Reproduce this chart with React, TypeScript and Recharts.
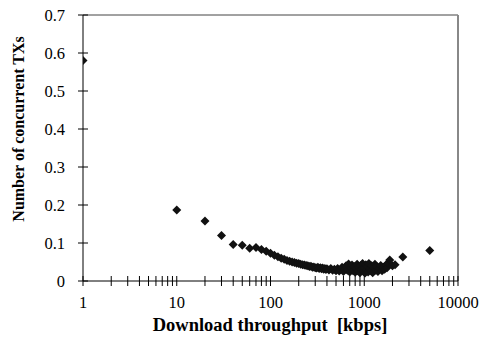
import { ScatterChart, Scatter, XAxis, YAxis, ReferenceLine } from 'recharts'

// download throughput [kbps] and matching number of concurrent TXs
const throughput = [
  1, 10, 20, 30, 40, 50, 60, 70, 80, 90,
  100, 110, 120, 130, 140, 150, 160, 170, 180, 190,
  200, 210, 220, 230, 240, 250, 260, 270, 280, 290,
  300, 310, 320, 330, 340, 350, 360, 370, 380, 390,
  400, 420, 440, 460, 480, 500, 520, 540, 560, 580,
  600, 620, 640, 660, 680, 700, 720, 740, 760, 780,
  800, 820, 840, 860, 880, 900, 920, 940, 960, 980,
  1000, 1020, 1040, 1060, 1080, 1100, 1120, 1150, 1180, 1200,
  1230, 1260, 1300, 1330, 1360, 1400, 1450, 1500, 1550, 1600,
  1650, 1700, 1750, 1800, 1870, 2000, 2130, 2580, 5000
]
const concurrent = [
  0.58, 0.187, 0.158, 0.12, 0.096, 0.094, 0.086, 0.088, 0.083, 0.078,
  0.073, 0.068, 0.064, 0.06, 0.057, 0.054, 0.052, 0.05, 0.049, 0.047,
  0.046, 0.044, 0.043, 0.042, 0.041, 0.04, 0.038, 0.039, 0.036, 0.037,
  0.035, 0.034, 0.036, 0.033, 0.035, 0.032, 0.034, 0.031, 0.033, 0.03,
  0.032, 0.029, 0.033, 0.028, 0.031, 0.027, 0.033, 0.026, 0.03, 0.036,
  0.025, 0.031, 0.04, 0.028, 0.045, 0.024, 0.034, 0.042, 0.027, 0.038,
  0.023, 0.033, 0.044, 0.026, 0.036, 0.022, 0.041, 0.03, 0.046, 0.025,
  0.035, 0.021, 0.043, 0.029, 0.038, 0.024, 0.046, 0.032, 0.027, 0.04,
  0.022, 0.035, 0.044, 0.028, 0.038, 0.025, 0.033, 0.041, 0.027, 0.036,
  0.031, 0.042, 0.035, 0.047, 0.055, 0.04, 0.043, 0.063, 0.08
]

const xMajor = [1, 10, 100, 1000, 10000]
const xTicks = [
  1, 2, 3, 4, 5, 6, 7, 8, 9,
  10, 20, 30, 40, 50, 60, 70, 80, 90,
  100, 200, 300, 400, 500, 600, 700, 800, 900,
  1000, 2000, 3000, 4000, 5000, 6000, 7000, 8000, 9000,
  10000
]
const yTicks = [0, 0.1, 0.2, 0.3, 0.4, 0.5, 0.6, 0.7]

const points = throughput.map((x, i) => ({ x, y: concurrent[i] }))

const font = '"Liberation Serif", "Times New Roman", serif'

const XTick = ({ x, y, payload }: any) => (
  <g>
    <line x1={x} x2={x} y1={y - 5} y2={y + 5} stroke="#000" />
    {xMajor.includes(payload.value) && (
      <text x={x} y={y + 27} textAnchor="middle" fontSize={16.5} fontFamily={font} fill="#000">
        {payload.value}
      </text>
    )}
  </g>
)

const YTick = ({ x, y, payload }: any) => (
  <g>
    <line x1={x - 5} x2={x + 5} y1={y} y2={y} stroke="#000" />
    <text x={x - 18} y={y} textAnchor="end" dominantBaseline="central" fontSize={16.5} fontFamily={font} fill="#000">
      {payload.value}
    </text>
  </g>
)

const Diamond = ({ cx, cy }: any) => (
  <path d={`M${cx},${cy - 4.5}L${cx + 4.5},${cy}L${cx},${cy + 4.5}L${cx - 4.5},${cy}Z`} fill="#111" />
)

export default function App() {
  return (
    <div style={{ position: 'absolute', left: 0, top: 0 }}>
      <ScatterChart width={480} height={340} margin={{ top: 15, right: 22, bottom: 0, left: 0 }}>
        <XAxis
          dataKey="x"
          type="number"
          scale="log"
          domain={[1, 10000]}
          ticks={xTicks}
          interval={0}
          allowDataOverflow
          height={59}
          tickSize={0}
          tickMargin={0}
          tickLine={false}
          tick={<XTick />}
          axisLine={{ stroke: '#000' }}
          label={{
            content: () => (
              <text x={270} y={331} textAnchor="middle" fontSize={18.5} fontWeight="bold" fontFamily={font} fill="#000" style={{ whiteSpace: 'pre' }}>
                Download throughput  [kbps]
              </text>
            ),
          }}
        />
        <YAxis
          dataKey="y"
          type="number"
          domain={[0, 0.7]}
          ticks={yTicks}
          interval={0}
          width={83}
          tickSize={0}
          tickMargin={0}
          tickLine={false}
          tick={<YTick />}
          axisLine={{ stroke: '#000' }}
          label={{
            content: () => (
              <text x={18} y={129} transform="rotate(-90, 18, 129)" textAnchor="middle" dominantBaseline="central" fontSize={16} fontWeight="bold" fontFamily={font} fill="#000">
                Number of concurrent TXs
              </text>
            ),
          }}
        />
        <ReferenceLine y={0.7} stroke="#444" strokeWidth={1} />
        <ReferenceLine x={10000} stroke="#888" strokeWidth={2} />
        <Scatter data={points} shape={<Diamond />} isAnimationActive={false} />
      </ScatterChart>
    </div>
  )
}
